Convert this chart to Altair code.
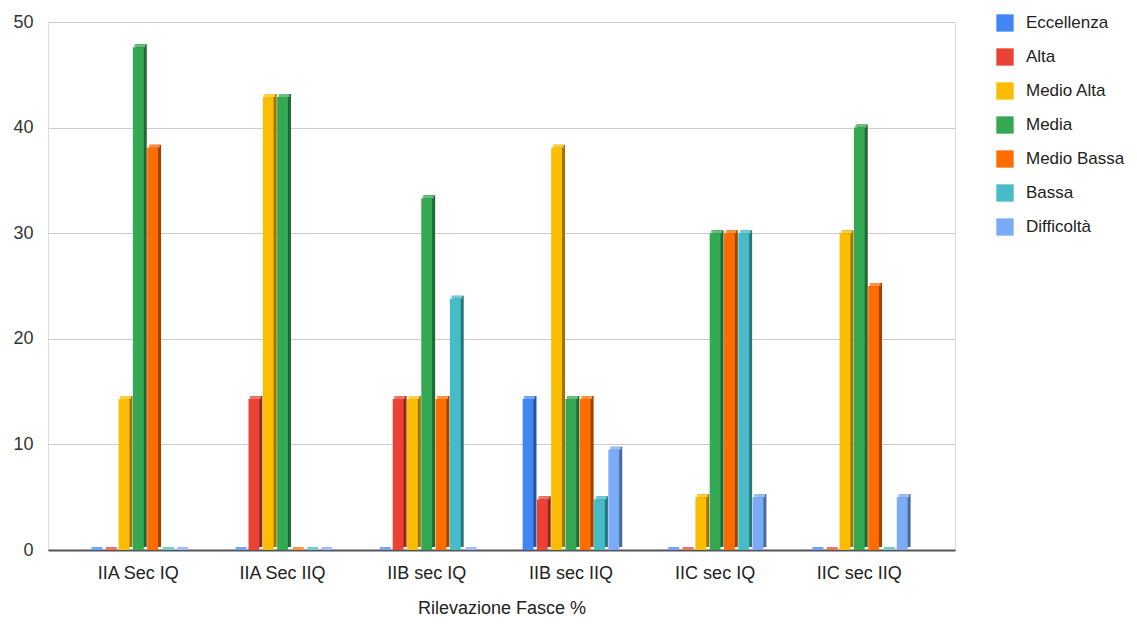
import altair as alt
import pandas as pd

groups = ["IIA Sec IQ", "IIA Sec IIQ", "IIB sec IQ", "IIB sec IIQ", "IIC sec IQ", "IIC sec IIQ"]
series = ["Eccellenza", "Alta", "Medio Alta", "Media", "Medio Bassa", "Bassa", "Difficoltà"]
colors = ["#4285F4", "#EA4335", "#FBBC04", "#34A853", "#FF6D01", "#46BDC6", "#7BAAF7"]

eccellenza = [0, 0, 0, 14.3, 0, 0]
alta = [0, 14.3, 14.3, 4.8, 0, 0]
medio_alta = [14.3, 42.9, 14.3, 38.1, 5, 30]
media = [47.6, 42.9, 33.3, 14.3, 30, 40]
medio_bassa = [38.1, 0, 14.3, 14.3, 30, 25]
bassa = [0, 0, 23.8, 4.8, 30, 0]
difficolta = [0, 0, 0, 9.5, 5, 5]

values = [eccellenza, alta, medio_alta, media, medio_bassa, bassa, difficolta]


def shade(hexc, f):
    h = hexc.lstrip("#")
    r, g, b = (int(h[i:i + 2], 16) for i in (0, 2, 4))
    if f < 1:
        r, g, b = int(r * f), int(g * f), int(b * f)
    else:
        t = f - 1
        r, g, b = int(r + (255 - r) * t), int(g + (255 - g) * t), int(b + (255 - b) * t)
    return "#{:02x}{:02x}{:02x}".format(r, g, b)


dark_colors = [shade(c, 0.62) for c in colors]
light_colors = [shade(c, 1.25) for c in colors]

rows = []
for s, vals in zip(series, values):
    for g, v in zip(groups, vals):
        rows.append({"Gruppo": g, "Fascia": s, "Valore": v})
df = pd.DataFrame(rows)

FONT = "Liberation Sans"
PLOT_W = 907
PLOT_H = 528
P_IN, P_OUT = 0.33, 0.31
STEP = PLOT_W / (len(groups) - P_IN + 2 * P_OUT)
BAND = STEP * (1 - P_IN)
DEPTH = 3

x_enc = alt.X(
    "Gruppo:N",
    sort=groups,
    scale=alt.Scale(paddingInner=P_IN, paddingOuter=P_OUT, align=0.47),
    axis=alt.Axis(
        title="Rilevazione Fasce %",
        labelAngle=0,
        labelFontSize=18,
        labelColor="#222222",
        labelFont=FONT,
        labelPadding=14,
        ticks=False,
        domainColor="#555555",
        domainWidth=2,
        titleFont=FONT,
        titleFontSize=18,
        titleFontWeight="normal",
        titleColor="#222222",
        titlePadding=17,
        grid=False,
    ),
)
y_enc = alt.Y(
    "Valore:Q",
    scale=alt.Scale(domain=[0, 50], nice=False),
    axis=alt.Axis(
        title=None,
        values=[0, 10, 20, 30, 40, 50],
        labelFontSize=18,
        labelColor="#333333",
        labelFont=FONT,
        labelPadding=15,
        ticks=False,
        domain=False,
        gridColor="#cccccc",
        gridWidth=1,
    ),
)


def xoff(shift):
    return alt.XOffset(
        "Fascia:N",
        sort=series,
        scale=alt.Scale(domain=series, paddingInner=0.24, range=[shift, BAND + shift]),
    )


back = alt.Chart(df).mark_bar(yOffset=-DEPTH).encode(
    x=x_enc,
    y=y_enc,
    xOffset=xoff(DEPTH),
    color=alt.Color("Fascia:N", sort=series, scale=alt.Scale(domain=series, range=dark_colors), legend=None),
)

top = alt.Chart(df).mark_bar(yOffset=-DEPTH, y2Offset=0).encode(
    x=x_enc,
    y=y_enc,
    y2=alt.Y2("Valore:Q"),
    xOffset=xoff(DEPTH / 2),
    color=alt.Color("Fascia:N", sort=series, scale=alt.Scale(domain=series, range=light_colors), legend=None),
)

front = alt.Chart(df).mark_bar().encode(
    x=x_enc,
    y=y_enc,
    xOffset=xoff(0),
    color=alt.Color(
        "Fascia:N",
        sort=series,
        scale=alt.Scale(domain=series, range=colors),
        legend=alt.Legend(
            title=None,
            orient="none",
            legendX=948,
            legendY=-8,
            symbolType="square",
            symbolSize=300,
            symbolStrokeWidth=0,
            labelFontSize=17,
            labelFont=FONT,
            labelColor="#222222",
            labelOffset=12,
            rowPadding=16,
        ),
    ),
)

chart = (
    alt.layer(back, top, front)
    .resolve_scale(color="independent", xOffset="independent")
    .properties(
        width=PLOT_W,
        height=PLOT_H,
        autosize=alt.AutoSizeParams(type="none"),
        padding={"left": 40, "top": 14, "right": 174, "bottom": 69},
    )
    .configure_view(stroke=None)
    .configure(background="white")
)

chart.save("out.html", embed_options={"renderer": "svg", "actions": False})
